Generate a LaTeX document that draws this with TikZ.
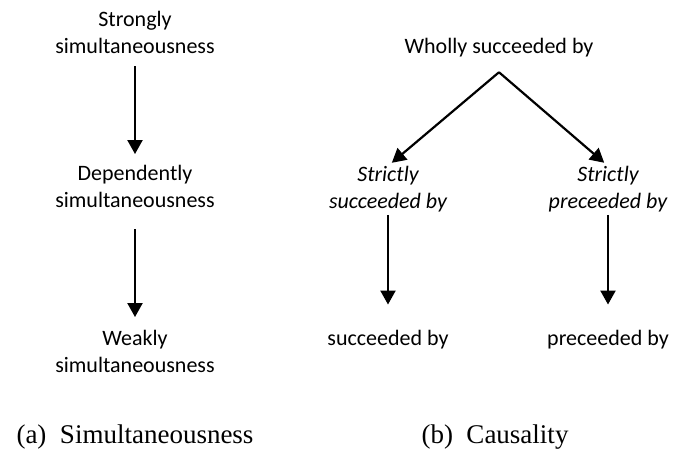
\documentclass[tikz,border=0pt]{standalone}
\usepackage{fontspec}
\setmainfont{Carlito}
\newfontfamily\capfont{Liberation Serif}
\usetikzlibrary{arrows.meta}

\begin{document}
\begin{tikzpicture}[
  x=1pt, y=-1pt,
  txt/.style={align=center, inner sep=0pt, anchor=base,
              font=\fontsize{22}{26.5}\selectfont},
  itxt/.style={txt, font=\fontsize{22}{26.5}\selectfont\itshape},
  captxt/.style={inner sep=0pt, anchor=base,
                 font=\capfont\fontsize{27}{32}\selectfont},
  arr/.style={-{Triangle[length=14pt,width=15pt]}, line width=2.2pt}
]
\useasboundingbox (0,0) rectangle (673,456);

% (a) simultaneousness
\node[txt] (strong) at (135, 53)  {Strongly\\simultaneousness};
\node[txt] (dep)    at (135, 207) {Dependently\\simultaneousness};
\node[txt] (weak)   at (135, 372) {Weakly\\simultaneousness};

\draw[arr, shorten <=13pt, shorten >=11pt] (strong.south) -- (dep.north);
\draw[arr, shorten <=22pt, shorten >=13pt] (dep.south) -- (weak.north);

% (b) causality
\node[txt]  (whole) at (499, 53)  {Wholly succeeded by};
\node[itxt] (ssucc) at (388, 208) {Strictly\\succeeded by};
\node[itxt] (sprec) at (608, 208) {Strictly\\preceeded by};
\node[txt]  (succ)  at (388, 345) {succeeded by};
\node[txt]  (prec)  at (608, 345) {preceeded by};
\coordinate (apex) at ([yshift=-15.5pt]whole.south);

\draw[arr, shorten >=5pt] (apex) -- (ssucc.north);
\draw[arr, shorten >=5pt] (apex) -- (sprec.north);
\draw[arr, shorten <=3pt, shorten >=25pt] (ssucc.south) -- (succ.north);
\draw[arr, shorten <=3pt, shorten >=25pt] (sprec.south) -- (prec.north);

% captions
\node[captxt] (capa) at (135, 443) {(a)\ \ Simultaneousness};
\node[captxt] (capb) at (495, 443) {(b)\ \ Causality};

\end{tikzpicture}
\end{document}
